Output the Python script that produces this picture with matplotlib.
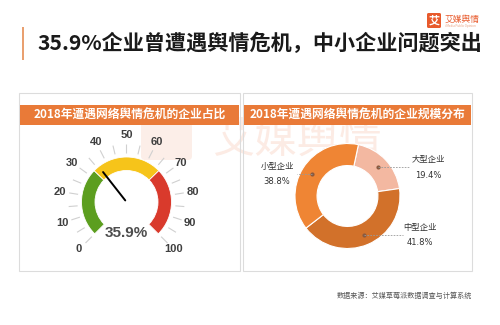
import numpy as np
import matplotlib
matplotlib.use("Agg")
import matplotlib.pyplot as plt
from matplotlib.patches import Wedge, Rectangle, FancyBboxPatch

plt.rcParams['font.family'] = ['Noto Sans CJK SC', 'DejaVu Sans']

# ---- data ----
title = "35.9%企业曾遭遇舆情危机，中小企业问题突出"
left_header = "2018年遭遇网络舆情危机的企业占比"
right_header = "2018年遭遇网络舆情危机的企业规模分布"
source = "数据来源：艾媒草莓派数据调查与计算系统"

gauge_value = 35.9
gauge_bands = [0, 33, 67, 100]
gauge_colors = ['#5c9e1f', '#f6c41a', '#d93a2c']
gauge_ticks = [0, 10, 20, 30, 40, 50, 60, 70, 80, 90, 100]

size_labels = ['大型企业', '中型企业', '小型企业']
size_shares = [19.4, 41.8, 38.8]
size_colors = ['#f3b8a1', '#d2712a', '#ef8534']

ORANGE = '#e97a38'
NUM_FONT = 'Liberation Sans'

fig = plt.figure(figsize=(5, 3.25), dpi=100)
bg = fig.add_axes([0, 0, 1, 1])
bg.set_xlim(0, 500)
bg.set_ylim(325, 0)
bg.axis('off')

# title
bg.add_patch(Rectangle((21.5, 27), 2.5, 33, color='#e9a070', lw=0))
bg.text(37, 43, title, fontsize=15.2, fontweight='bold', color='#1a1a1a',
        va='center', ha='left')

# logo
bg.add_patch(FancyBboxPatch((427, 13), 14, 15, boxstyle='round,pad=0,rounding_size=1.5',
                            color='#e85a2c', lw=0))
bg.text(434, 20.5, '艾', color='white', fontsize=8, fontweight='bold', ha='center', va='center')
bg.text(445, 19.5, '艾媒舆情', color='#e85a2c', fontsize=6.3, ha='left', va='center')
bg.text(445, 26, 'iiMedia Public Opinion', color='#e8a080', fontsize=2.2, ha='left', va='center')

# watermark (behind panels' content)
bg.add_patch(FancyBboxPatch((141, 120), 51, 40, boxstyle='round,pad=0,rounding_size=4',
                            color='#fceee8', lw=0, zorder=0.5))
bg.text(297, 141, '艾媒舆情', color='#fcebe4', fontsize=30.5, ha='center',
        va='center', zorder=0.5)

# panels
for x0, x1, head in [(19, 240, left_header), (243, 472, right_header)]:
    bg.add_patch(Rectangle((x0, 93), x1 - x0, 178, fill=False, ec='#dcdcdc', lw=0.8))
    bg.add_patch(Rectangle((x0 + 1, 105), x1 - x0 - 2, 20, color=ORANGE, lw=0, zorder=1))
    bg.text((x0 + x1) / 2, 115, head, color='white', fontsize=8.5,
            fontweight='bold', ha='center', va='center', zorder=2)

# footer
bg.text(472, 296, source, color='#555555', fontsize=5.1, ha='right', va='center')

# ---- gauge ----
gcx, gcy, gr = 126.5, 202, 72
gax = fig.add_axes([(gcx - gr) / 500, (325 - gcy - gr) / 325, 2 * gr / 500, 2 * gr / 325])
gax.set_xlim(-gr, gr)
gax.set_ylim(-gr, gr)
gax.axis('off')


def ang(v):
    return 225 - v * 2.7


for a, b, c in zip(gauge_bands[:-1], gauge_bands[1:], gauge_colors):
    gax.add_patch(Wedge((0, 0), 45, ang(b), ang(a), width=13.5, fc=c, ec='white', lw=0.6))

for v in np.arange(0, 101, 5):
    t = np.radians(ang(v))
    gax.plot([49 * np.cos(t), 58 * np.cos(t)], [49 * np.sin(t), 58 * np.sin(t)],
             color='#d0d0d0', lw=0.8, solid_capstyle='butt')

for v in gauge_ticks:
    t = np.radians(ang(v))
    gax.text(67 * np.cos(t), 67 * np.sin(t), str(v), color='#3f3f3f', fontsize=8,
             fontweight='bold', family=NUM_FONT, ha='center', va='center')

t = np.radians(ang(gauge_value))
gax.plot([2 * np.cos(t), 38 * np.cos(t)], [2 * np.sin(t), 38 * np.sin(t)],
         color='black', lw=1.4, solid_capstyle='round')
gax.text(0, -31, f"{gauge_value}%", color='#4d4d4d', fontsize=11, fontweight='bold',
         family=NUM_FONT, ha='center', va='center')

# ---- donut ----
dcx, dcy, dr = 347.5, 196, 52.5
dax = fig.add_axes([(dcx - 100) / 500, (325 - dcy - 65) / 325, 200 / 500, 130 / 325])
wedges, _ = dax.pie(size_shares, colors=size_colors, startangle=78, counterclock=False,
                    radius=1, wedgeprops=dict(width=0.42, edgecolor='white', linewidth=0.8))
dax.set_xlim(-100 / dr, 100 / dr)
dax.set_ylim(-65 / dr, 65 / dr)
dax.set_aspect('auto')
dax.axis('off')

label_ends = [(410, 428), (403, 420), (297, 277)]
for w, lab, share, (lx, tx) in zip(wedges, size_labels, size_shares, label_ends):
    mid = np.radians((w.theta1 + w.theta2) / 2)
    px, py = 0.8 * np.cos(mid), 0.8 * np.sin(mid)
    ex = (lx - dcx) / dr
    dax.plot(px, py, 'o', color='#8a5a40', ms=2)
    dax.plot([px, ex], [py, py], color='#999999', lw=0.6, ls=(0, (2, 1.5)))
    tx_d = (tx - dcx) / dr
    dax.text(tx_d, py + 7.5 / dr, lab, fontsize=6, color='#333333', ha='center', va='center')
    dax.text(tx_d, py - 8 / dr, f"{share}%", fontsize=6, color='#333333',
             family=['DejaVu Sans'], ha='center', va='center')

fig.savefig('out.png', dpi=100)
